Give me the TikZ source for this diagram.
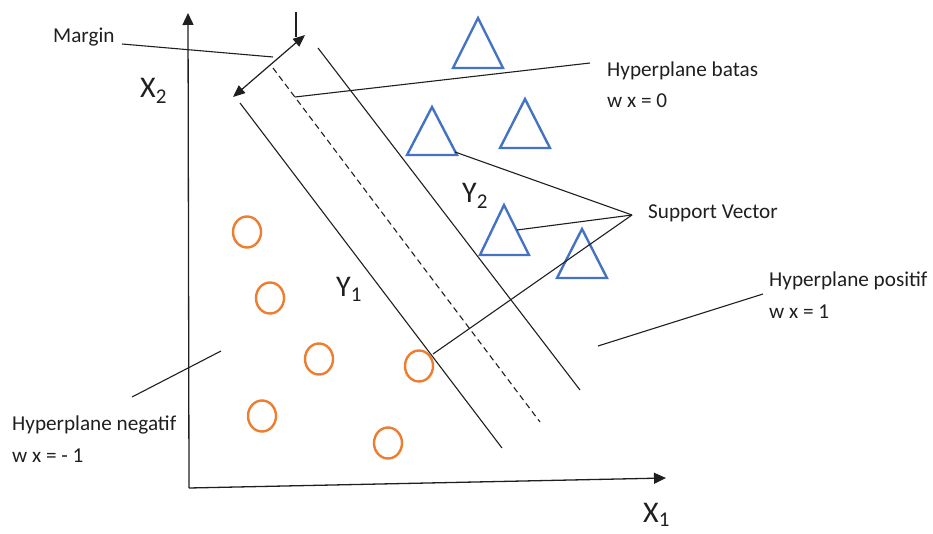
\documentclass[tikz,border=0pt]{standalone}
\usepackage{fontspec}
\setmainfont{Carlito}
\usetikzlibrary{arrows.meta,shapes.geometric}
\definecolor{tri}{HTML}{4472C4}
\definecolor{circ}{HTML}{ED7D31}
\definecolor{ink}{HTML}{1F1F1F}
\begin{document}
\begin{tikzpicture}[x=1pt,y=-1pt,
  lbl/.style={inner sep=0pt, anchor=base west, text=ink, font=\fontsize{21.2}{24}\selectfont},
  big/.style={inner sep=0pt, anchor=base west, text=ink, font=\fontsize{30}{36}\selectfont},
  ln/.style={draw=ink, line width=1.1pt},
  dashline/.style={draw=ink, line width=1.1pt, dash pattern=on 6pt off 4pt},
  axis/.style={draw=ink, line width=1.3pt, -{Triangle[length=12pt,width=11pt]}},
  dbl/.style={draw=ink, line width=1.2pt, {Triangle[length=12pt,width=10pt]}-{Triangle[length=12pt,width=10pt]}},
  trishape/.style={draw=tri, line width=2.4pt, line join=miter},
  pt/.style={draw=circ, line width=2.4pt, ellipse, minimum width=28pt, minimum height=31pt, inner sep=0pt}
]
\useasboundingbox (0,0) rectangle (933,534);

% axes
\coordinate (o) at (189,488);
\coordinate (ytip) at (188,13);
\coordinate (xtip) at (666,478);
\draw[axis] (o) -- (ytip);
\draw[axis] (o) -- (xtip);
\node[big] (x2) at (140,98) {X\textsubscript{2}};
\node[big] (x1) at (643,522) {X\textsubscript{1}};

% hyperplanes
\coordinate (n1) at (240,103); \coordinate (n2) at (502,448);
\coordinate (z1) at (273,68);  \coordinate (z2) at (540,422);
\coordinate (p1) at (318,48);  \coordinate (p2) at (580,390);
\draw[ln] (n1) -- (n2);
\draw[dashline] (z1) -- (z2);
\draw[ln] (p1) -- (p2);

% margin
\coordinate (m1) at (233,97); \coordinate (m2) at (305,35);
\draw[dbl] (m1) -- (m2);
\coordinate (t1) at (296,12); \coordinate (t2) at (296,37);
\draw[ln] (t1) -- (t2);
\node[lbl] (margin) at (53,43) {Margin};
\coordinate (ml1) at (122,44); \coordinate (ml2) at (273,57);
\draw[ln] (ml1) -- (ml2);

% labels
\node[big] (y1) at (336,297) {Y\textsubscript{1}};
\node[big] (y2) at (462,203) {Y\textsubscript{2}};

\node[lbl] (batas) at (607,77) {Hyperplane batas};
\node[lbl] (batas2) at (607,108) {w x = 0};
\coordinate (bl1) at (590,63); \coordinate (bl2) at (295,97);
\draw[ln] (bl1) -- (bl2);

\node[lbl] (pos) at (769,287) {Hyperplane positif};
\node[lbl] (pos2) at (769,318) {w x = 1};
\coordinate (pl1) at (763,294); \coordinate (pl2) at (598,346);
\draw[ln] (pl1) -- (pl2);

\node[lbl] (neg) at (12,430) {Hyperplane negatif};
\node[lbl] (neg2) at (12,462) {w x = - 1};
\coordinate (nl1) at (132,397); \coordinate (nl2) at (221,351);
\draw[ln] (nl1) -- (nl2);

% triangles
\draw[trishape] (478,18) -- (453,68) -- (503,68) -- cycle;
\draw[trishape] (432,107) -- (407,155) -- (457,155) -- cycle;
\draw[trishape] (525,99) -- (500,148) -- (550,148) -- cycle;
\draw[trishape] (504,205) -- (480,255) -- (529,255) -- cycle;
\draw[trishape] (582,229) -- (557,278) -- (607,278) -- cycle;

% circles
\node[pt] (c1) at (247,232) {};
\node[pt] (c2) at (270,298) {};
\node[pt] (c3) at (319,359) {};
\node[pt] (c4) at (419,366) {};
\node[pt] (c5) at (262,416) {};
\node[pt] (c6) at (388,443) {};

% support vectors
\node[lbl] (sv) at (648,219) {Support Vector};
\coordinate (svp) at (632,215);
\coordinate (sva) at (455,152);
\coordinate (svb) at (517,230);
\coordinate (svc) at (433,354);
\draw[ln] (svp) -- (sva);
\draw[ln] (svp) -- (svb);
\draw[ln] (svp) -- (svc);
\end{tikzpicture}
\end{document}
